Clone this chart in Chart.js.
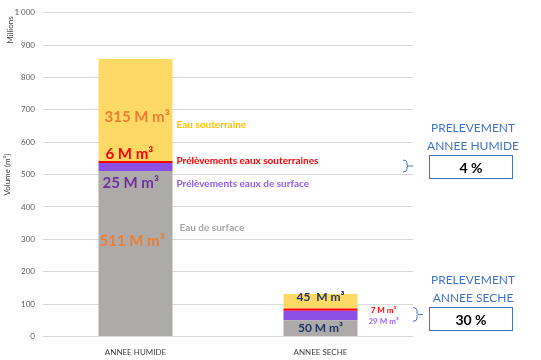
<!DOCTYPE html>
<html>
<head>
<meta charset="utf-8">
<script src="https://cdn.jsdelivr.net/npm/chart.js@4"></script>
<style>
  html, body { margin: 0; padding: 0; background: #fff; }
  #wrap { width: 541px; height: 360px; }
</style>
</head>
<body>
<div id="wrap"><canvas id="chart" width="541" height="360"></canvas></div>
<script>
// data (millions de m3)
const categories = ['ANNEE HUMIDE', 'ANNEE SECHE'];
const eauSurface = [511, 50];
const prelevSurface = [25, 29];
const prelevSouterraine = [6, 7];
const eauSouterraine = [315, 45];
const yTicks = [0, 100, 200, 300, 400, 500, 600, 700, 800, 900, 1000];
const pourcentages = ['4 %', '30 %'];

const FONT = 'Lato, "Liberation Sans", sans-serif';
const BLUE = '#4472C4';

// labels written on / beside the bars : [category, y value, text, colour, size, x offset, align]
const barLabels = [
  [0, 677, '315 M m³', '#ED7D31', 15, -31, 'left'],
  [0, 655, 'Eau souterraine', '#FFC000', 10, 41, 'left'],
  [0, 564, '6 M m³', '#FF0000', 15, -30, 'left'],
  [0, 543, 'Prélèvements eaux souterraines', '#FF0000', 10, 41, 'left'],
  [0, 473, '25 M m³', '#7030A0', 15, -33, 'left'],
  [0, 473, 'Prélèvements eaux de surface', '#8E5CF0', 10, 41, 'left'],
  [0, 335, 'Eau de surface', '#A6A6A6', 10, 44, 'left'],
  [0, 293, '511 M m³', '#ED7D31', 15, -36, 'left'],
  [1, 122, '45  M m³', '#1F3864', 12, 0, 'center'],
  [1, 27, '50 M m³', '#1F3864', 12, 0, 'center'],
  [1, 79, '7 M m³', '#FF0000', 8, 63, 'center'],
  [1, 46, '29 M m³', '#9966FF', 8, 63, 'center']
];

const annotations = {
  id: 'annotations',
  afterDraw(chart) {
    const ctx = chart.ctx;
    const x = chart.scales.x, y = chart.scales.y;
    ctx.save();
    ctx.textBaseline = 'middle';
    barLabels.forEach(([c, v, t, col, size, dx, align]) => {
      ctx.font = 'bold ' + size + 'px ' + FONT;
      ctx.fillStyle = col;
      ctx.textAlign = align;
      ctx.fillText(t, x.getPixelForValue(c) + dx, y.getPixelForValue(v));
    });

    // "Millions"
    ctx.save();
    ctx.translate(10, 30);
    ctx.rotate(-Math.PI / 2);
    ctx.font = '8px ' + FONT;
    ctx.fillStyle = '#404040';
    ctx.textAlign = 'center';
    ctx.fillText('Millions', 0, 0);
    ctx.restore();

    // bracket + box for each year, centred on the prelevement segments
    const titles = [['PRELEVEMENT', 'ANNEE HUMIDE'], ['PRELEVEMENT', 'ANNEE SECHE']];
    const boxY = [167, 319];
    const brX = [403, 413];
    categories.forEach((c, i) => {
      const yTop = y.getPixelForValue(eauSurface[i] + prelevSurface[i] + prelevSouterraine[i]);
      const yBot = y.getPixelForValue(eauSurface[i]) ;
      const bx = brX[i];
      const mid = (yTop + yBot) / 2;
      ctx.strokeStyle = BLUE;
      ctx.lineWidth = 1;
      ctx.beginPath();
      ctx.moveTo(bx, yTop - 1);
      ctx.quadraticCurveTo(bx + 4, yTop - 1, bx + 4, yTop + 2);
      ctx.lineTo(bx + 4, mid - 1);
      ctx.lineTo(bx + 5, mid);
      ctx.lineTo(bx + 4, mid + 1);
      ctx.lineTo(bx + 4, yBot - 2);
      ctx.quadraticCurveTo(bx + 4, yBot + 1, bx, yBot + 1);
      ctx.moveTo(bx + 5, mid);
      ctx.lineTo(bx + 10, mid);
      ctx.stroke();

      const cy = boxY[i];
      ctx.strokeStyle = BLUE;
      ctx.strokeRect(429.5, cy - 11.5, 83, 23);
      ctx.fillStyle = '#000';
      ctx.font = 'bold 14px ' + FONT;
      ctx.textAlign = 'center';
      ctx.fillText(pourcentages[i], 471, cy + 1);

      ctx.fillStyle = BLUE;
      ctx.font = '12px ' + FONT;
      ctx.fillText(titles[i][0], 473, cy - 39);
      ctx.fillText(titles[i][1], 473, cy - 21);
    });
    ctx.restore();
  }
};

new Chart(document.getElementById('chart'), {
  type: 'bar',
  data: {
    labels: categories,
    datasets: [
      { label: 'Eau de surface', data: eauSurface, backgroundColor: '#AEAAAA' },
      { label: 'Prélèvements eaux de surface', data: prelevSurface, backgroundColor: '#8B4FE6' },
      { label: 'Prélèvements eaux souterraines', data: prelevSouterraine, backgroundColor: '#FF0000' },
      { label: 'Eau souterraine', data: eauSouterraine, backgroundColor: '#FFD966' }
    ]
  },
  options: {
    responsive: false,
    animation: false,
    layout: { padding: { top: 2, right: 128, left: 3, bottom: 0 } },
    datasets: { bar: { categoryPercentage: 0.8, barPercentage: 0.5 } },
    plugins: { legend: { display: false }, tooltip: { enabled: false } },
    scales: {
      x: {
        stacked: true,
        grid: { display: false },
        border: { display: false },
        ticks: { color: '#404040', font: { family: FONT, size: 8 }, padding: 3 }
      },
      y: {
        stacked: true,
        min: 0,
        max: 1000,
        afterBuildTicks(s) { s.ticks = yTicks.map(v => ({ value: v })); },
        afterFit(s) { s.width = 40; },
        grid: { color: '#D9D9D9', drawTicks: false },
        border: { display: false },
        ticks: {
          color: '#595959',
          font: { family: FONT, size: 8 },
          padding: 8,
          callback: v => v.toLocaleString('fr-FR').replace(/\u202f|\u00a0/g, ' ')
        },
        title: { display: true, text: 'Volume (m³)', color: '#404040', font: { family: FONT, size: 8 }, padding: 0 }
      }
    }
  },
  plugins: [annotations]
});
</script>
</body>
</html>
